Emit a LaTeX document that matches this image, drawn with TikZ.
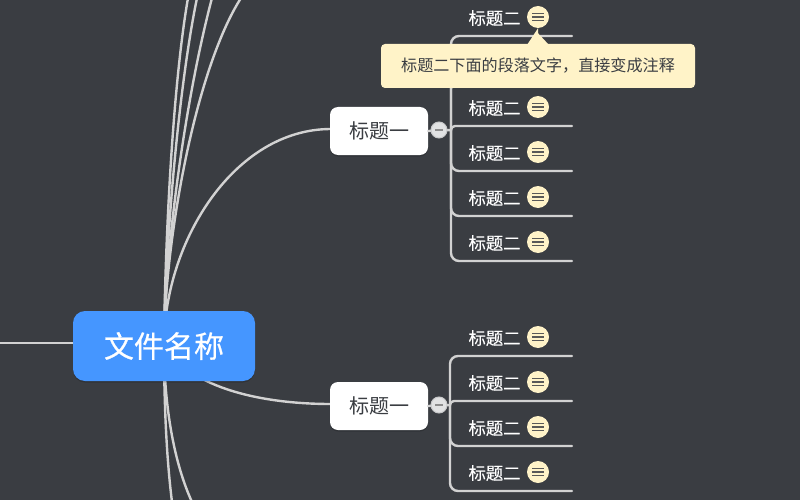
\documentclass[tikz,border=0pt]{standalone}
\usepackage{fontspec}
\setmainfont{Noto Sans CJK SC}
\newfontfamily\cjkheavy[FakeBold=0.6]{Noto Sans CJK SC}
\newfontfamily\cjkmid[FakeBold=0.3]{Noto Sans CJK SC}
\usetikzlibrary{shadows,calc}
\definecolor{bgc}{HTML}{3A3D42}
\definecolor{linec}{HTML}{D2D2D2}
\definecolor{notec}{HTML}{FFF3C8}
\definecolor{bluec}{HTML}{4596FF}
\definecolor{txtc}{HTML}{3A3D42}
\tikzset{
  x=1pt,y=-1pt,
  link/.style={draw=linec,line width=2.4pt,line cap=round},
  softshadow/.style={drop shadow={shadow xshift=0pt,shadow yshift=-1.5pt,opacity=.16,fill=black}},
  rootbox/.style={fill=bluec,rounded corners=12pt,minimum width=182pt,minimum height=70pt,inner sep=0pt,text=white,font=\cjkheavy\fontsize{30}{34}\selectfont,softshadow},
  mainbox/.style={fill=white,rounded corners=8pt,minimum width=98pt,minimum height=48pt,inner sep=0pt,text=txtc,font=\fontsize{20}{24}\selectfont,softshadow},
  subtext/.style={inner sep=0pt,text=white,font=\cjkmid\fontsize{17.3}{20}\selectfont},
  noteicon/.style={circle,fill=notec,minimum size=22pt,inner sep=0pt},
  fold/.style={circle,fill=white!85!bgc,draw=white!72!bgc,line width=1pt,minimum size=16pt,inner sep=0pt},
  tipbox/.style={fill=notec,rounded corners=4pt,minimum width=314pt,minimum height=44pt,inner sep=0pt,text=txtc,font=\fontsize{16.1}{20}\selectfont},
}
\newcommand{\iconbars}[1]{%
  \foreach \dy in {-3.7,0,3.7}{\draw[draw=black!65,line width=1.5pt] ($(#1)+(-6,\dy)$) -- ($(#1)+(6,\dy)$);}}
\begin{document}
\begin{tikzpicture}
\fill[bgc] (0,0) rectangle (800,500);
\useasboundingbox (0,0) rectangle (800,500);
% free ends
\coordinate (hub) at (164,343);
\coordinate (left) at (-2,343);
\coordinate (t1) at (188,-2);
\coordinate (t2) at (197,-2);
\coordinate (t3) at (212,-2);
\coordinate (t4) at (241,-2);
\coordinate (b1) at (172,502);
\coordinate (b2) at (192,502);
% root lines
\draw[link] (hub) -- (left);
\draw[link] (hub) .. controls (165,250) and (172,90) .. (t1);
\draw[link] (hub) .. controls (165,250) and (178,90) .. (t2);
\draw[link] (hub) .. controls (165,250) and (185,100) .. (t3);
\draw[link] (hub) .. controls (165,240) and (195,70) .. (t4);
\draw[link] (hub) .. controls (164,420) and (168,470) .. (b1);
\draw[link] (hub) .. controls (164,410) and (175,465) .. (b2);
\coordinate (m1w) at (331,129);
\coordinate (m2w) at (331,404);
\draw[link] (hub) .. controls (165,240) and (235,129) .. (m1w);
\draw[link] (hub) .. controls (185,385) and (255,404) .. (m2w);
% root
\node[rootbox] (root) at (164,346) {文件名称};
% upper group
\node[mainbox] (m1) at (379,131) {标题一};
\coordinate (a1) at (572,36);
\coordinate (a2) at (572,81);
\coordinate (a3) at (572,126);
\coordinate (a4) at (572,171);
\coordinate (a5) at (572,216);
\coordinate (a6) at (572,261);
\coordinate (h1) at (451,130);
\draw[link] (m1.east) -- (h1);
\draw[link,rounded corners=8pt] (h1) -- (451,36) -- (a1);
\draw[link,rounded corners=8pt] (h1) -- (451,81) -- (a2);
\draw[link,rounded corners=4pt] (h1) -- (451,126) -- (a3);
\draw[link,rounded corners=8pt] (h1) -- (451,171) -- (a4);
\draw[link,rounded corners=8pt] (h1) -- (451,216) -- (a5);
\draw[link,rounded corners=8pt] (h1) -- (451,261) -- (a6);
\node[fold] (f1) at (439,130) {};
\draw[draw=black!45,line width=2pt] ($(f1)+(-4,0)$) -- ($(f1)+(4,0)$);
% lower group
\node[mainbox] (m2) at (379,406) {标题一};
\coordinate (c1) at (572,356);
\coordinate (c2) at (572,401);
\coordinate (c3) at (572,446);
\coordinate (c4) at (572,491);
\coordinate (h2) at (450,405);
\draw[link] (m2.east) -- (h2);
\draw[link,rounded corners=8pt] (h2) -- (450,356) -- (c1);
\draw[link,rounded corners=4pt] (h2) -- (450,401) -- (c2);
\draw[link,rounded corners=8pt] (h2) -- (450,446) -- (c3);
\draw[link,rounded corners=8pt] (h2) -- (450,491) -- (c4);
\node[fold] (f2) at (439,405) {};
\draw[draw=black!45,line width=2pt] ($(f2)+(-4,0)$) -- ($(f2)+(4,0)$);
% labels and icons
\foreach \n/\y in {s1/18,s3/108,s4/153,s5/198,s6/243,s7/338,s8/383,s9/428,s10/473}{
  \node[subtext] (\n) at (494.5,\y) {标题二};
}
\foreach \n/\y in {s1/17,s3/107,s4/152,s5/197,s6/242,s7/337,s8/382,s9/427,s10/472}{
  \node[noteicon] (i\n) at (538,\y) {};
  \iconbars{i\n}
}
% tooltip
\node[tipbox] (tip) at (538,66) {标题二下面的段落文字，直接变成注释};
\fill[notec] (527,45) -- (is1.south) -- ++(0,5) -- (549,45) -- cycle;
\end{tikzpicture}
\end{document}
